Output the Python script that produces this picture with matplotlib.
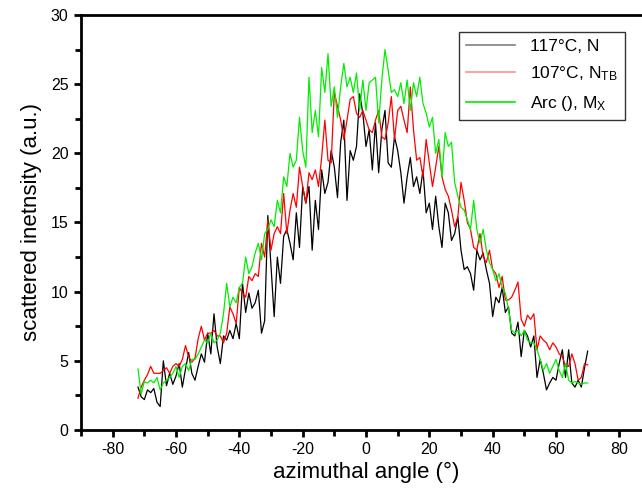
import numpy as np
import matplotlib
matplotlib.use("Agg")
import matplotlib.pyplot as plt
from matplotlib.ticker import MultipleLocator

plt.rcParams['font.family'] = ['Liberation Sans', 'DejaVu Sans']
plt.rcParams['mathtext.fontset'] = 'custom'
plt.rcParams['mathtext.rm'] = 'Liberation Sans'
plt.rcParams['mathtext.it'] = 'Liberation Sans'
plt.rcParams['axes.unicode_minus'] = False

# azimuthal angle grid (degrees)
angle = np.arange(-72, 71, 1)

# 117°C, N
black_vals = [
    3.1, 2.4, 2.2, 2.9, 2.7, 3.0, 2.0, 1.7, 5.0, 3.2,      # -72..-63
    4.1, 3.3, 3.9, 4.8, 3.1, 4.4, 5.6, 4.1, 3.6, 4.6,      # -62..-53
    5.5, 4.9, 7.0, 5.5, 8.4, 6.0, 4.8, 6.8, 6.5, 7.2,      # -52..-43
    6.6, 7.7, 6.6, 10.6, 8.5, 9.9, 8.8, 9.2, 10.1, 7.0,    # -42..-33
    7.9, 15.5, 11.8, 8.2, 12.5, 10.6, 14.0, 14.5, 13.5, 12.3,  # -32..-23
    15.7, 13.2, 17.6, 16.4, 17.6, 13.0, 16.6, 14.5, 18.8, 17.1,  # -22..-13
    17.9, 20.2, 19.0, 16.8, 20.8, 22.4, 16.6, 20.2, 19.5, 20.5,  # -12..-3
    24.3, 22.9, 20.5, 21.7, 18.8, 22.2, 18.6, 21.7, 23.1, 19.3,  # -2..7
    19.0, 21.2, 20.2, 18.6, 16.4, 18.3, 19.7, 17.6, 18.3, 17.1,  # 8..17
    18.8, 15.7, 16.4, 14.5, 16.9, 14.7, 13.2, 16.4, 15.7, 13.7,  # 18..27
    14.2, 15.4, 13.0, 11.6, 11.8, 11.3, 10.1, 13.0, 12.3, 12.8,  # 28..37
    11.6, 10.6, 8.2, 9.6, 9.2, 10.3, 8.5, 8.9, 7.0, 6.8,   # 38..47
    7.8, 5.3, 7.2, 6.8, 6.0, 6.8, 3.8, 5.1, 4.1, 2.9,      # 48..57
    3.4, 3.8, 3.6, 4.8, 5.8, 3.8, 5.8, 3.4, 3.1, 3.6,      # 58..67
    3.1, 4.5, 5.7,                                          # 68..70
]

# 107°C, N_TB
red_vals = [
    2.3, 3.1, 3.6, 4.0, 4.6, 4.1, 4.1, 4.1, 4.3, 4.5,      # -72..-63
    4.1, 4.6, 4.8, 4.6, 5.1, 6.1, 5.3, 4.9, 5.2, 6.6,      # -62..-53
    7.5, 6.5, 7.0, 7.0, 7.2, 6.8, 6.8, 6.3, 7.0, 8.9,      # -52..-43
    8.4, 7.7, 10.3, 9.9, 9.6, 11.1, 10.8, 11.3, 11.1, 13.5,  # -42..-33
    12.5, 15.2, 13.0, 14.2, 14.7, 14.2, 17.1, 14.2, 15.9, 17.1,  # -32..-23
    16.1, 19.0, 17.6, 16.4, 18.6, 18.1, 18.8, 17.6, 19.7, 22.4,  # -22..-13
    19.5, 19.3, 24.4, 23.4, 22.4, 21.0, 22.4, 23.9, 24.1, 22.9,  # -12..-3
    22.6, 23.1, 22.4, 21.7, 21.5, 22.4, 23.1, 21.2, 21.0, 22.2,  # -2..7
    24.1, 21.0, 23.1, 23.4, 22.4, 21.5, 24.8, 21.7, 19.5, 19.7,  # 8..17
    18.3, 21.0, 19.3, 17.6, 19.0, 20.5, 18.3, 17.4, 16.9, 15.9,  # 18..27
    14.7, 15.4, 17.9, 16.6, 15.0, 14.5, 13.2, 13.0, 14.2, 12.5,  # 28..37
    12.1, 13.0, 11.6, 11.3, 10.3, 11.1, 9.4, 9.4, 9.6, 10.1,  # 38..47
    10.7, 8.0, 7.5, 8.3, 8.0, 8.4, 5.8, 6.8, 6.5, 6.3,     # 48..57
    5.8, 6.3, 6.0, 5.5, 5.3, 4.6, 4.6, 5.5, 4.8, 3.6,      # 58..67
    3.8, 4.8, 4.7,                                          # 68..70
]

# Arc (), M_X
green_vals = [
    4.4, 2.6, 3.5, 3.4, 3.6, 3.4, 3.8, 2.9, 3.4, 3.6,      # -72..-63
    3.8, 4.1, 4.6, 3.8, 4.6, 4.8, 4.3, 5.1, 5.1, 5.5,      # -62..-53
    6.0, 6.5, 6.3, 7.0, 6.3, 6.5, 7.0, 8.4, 10.6, 8.9,     # -52..-43
    9.6, 9.2, 10.3, 10.6, 12.5, 11.3, 11.8, 12.8, 13.5, 12.3,  # -42..-33
    14.2, 14.5, 15.2, 14.7, 16.6, 15.7, 18.3, 17.6, 20.0, 19.0,  # -32..-23
    19.5, 22.6, 20.2, 19.0, 25.5, 21.5, 23.1, 21.2, 26.2, 24.4,  # -22..-13
    27.2, 23.4, 24.8, 22.6, 24.8, 26.5, 24.8, 25.5, 24.4, 25.8,  # -12..-3
    23.1, 25.3, 23.1, 25.1, 25.3, 25.5, 22.2, 25.3, 27.5, 26.0,  # -2..7
    24.4, 24.6, 24.1, 25.1, 23.6, 25.3, 23.1, 25.1, 24.1, 25.5,  # 8..17
    23.6, 22.9, 21.9, 22.6, 20.0, 21.0, 18.3, 21.5, 20.5, 20.8,  # 18..27
    17.9, 16.9, 16.1, 15.9, 15.2, 14.5, 16.6, 14.5, 13.5, 14.5,  # 28..37
    13.0, 12.1, 11.6, 10.8, 11.3, 10.3, 9.9, 8.7, 7.2, 7.0,  # 38..47
    7.2, 6.8, 7.2, 6.5, 6.3, 6.3, 5.8, 5.1, 4.3, 4.8,      # 48..57
    4.1, 4.6, 5.1, 4.3, 3.8, 4.8, 3.6, 3.4, 3.5, 3.4,      # 58..67
    3.3, 3.4, 3.4,                                          # 68..70
]

series_labels = ['117°C, N', r'107°C, N$_\mathregular{TB}$', r'Arc (), M$_\mathregular{X}$']
series_colors = ['#000000', '#ff0000', '#00ee00']
legend_colors = ['#808080', '#ff8c8c', '#00ee00']

W, H = 642, 493
fig = plt.figure(figsize=(W / 100, H / 100), dpi=100)
ax = fig.add_axes([81 / W, (H - 430) / H, (651 - 81) / W, (430 - 15) / H])

for vals, lab, col in zip([black_vals, red_vals, green_vals], series_labels, series_colors):
    ax.plot(angle, vals, color=col, lw=0.9, label=lab)

ax.set_xlim(-90, 90)
ax.set_ylim(0, 30)
ax.xaxis.set_minor_locator(MultipleLocator(10))
ax.yaxis.set_major_locator(MultipleLocator(5))
ax.yaxis.set_minor_locator(MultipleLocator(2.5))
ax.set_xticks([-80, -60, -40, -20, 0, 20, 40, 60, 80])

for s in ax.spines.values():
    s.set_linewidth(2.0)
ax.tick_params(which='major', direction='out', length=5, width=2, labelsize=11.5, pad=4)
ax.tick_params(which='minor', direction='out', length=4, width=2)
ax.tick_params(top=False, right=False, which='both')

ax.set_xlabel('azimuthal angle (°)', fontsize=16, labelpad=3)
ax.set_ylabel('scattered inetnsity (a.u.)', fontsize=16, labelpad=6)

leg = ax.legend(loc='upper right', bbox_to_anchor=(625 / W, 1 - 32 / H),
                bbox_transform=fig.transFigure, fontsize=12.5, frameon=True,
                fancybox=False, edgecolor='black', handlelength=2.8,
                borderpad=0.4, labelspacing=0.6, handletextpad=0.9,
                borderaxespad=0)
leg.get_frame().set_linewidth(1.0)
for line, lc in zip(leg.get_lines(), legend_colors):
    line.set_linewidth(1.2)
    line.set_color(lc)

fig.savefig('out.png', dpi=100)
